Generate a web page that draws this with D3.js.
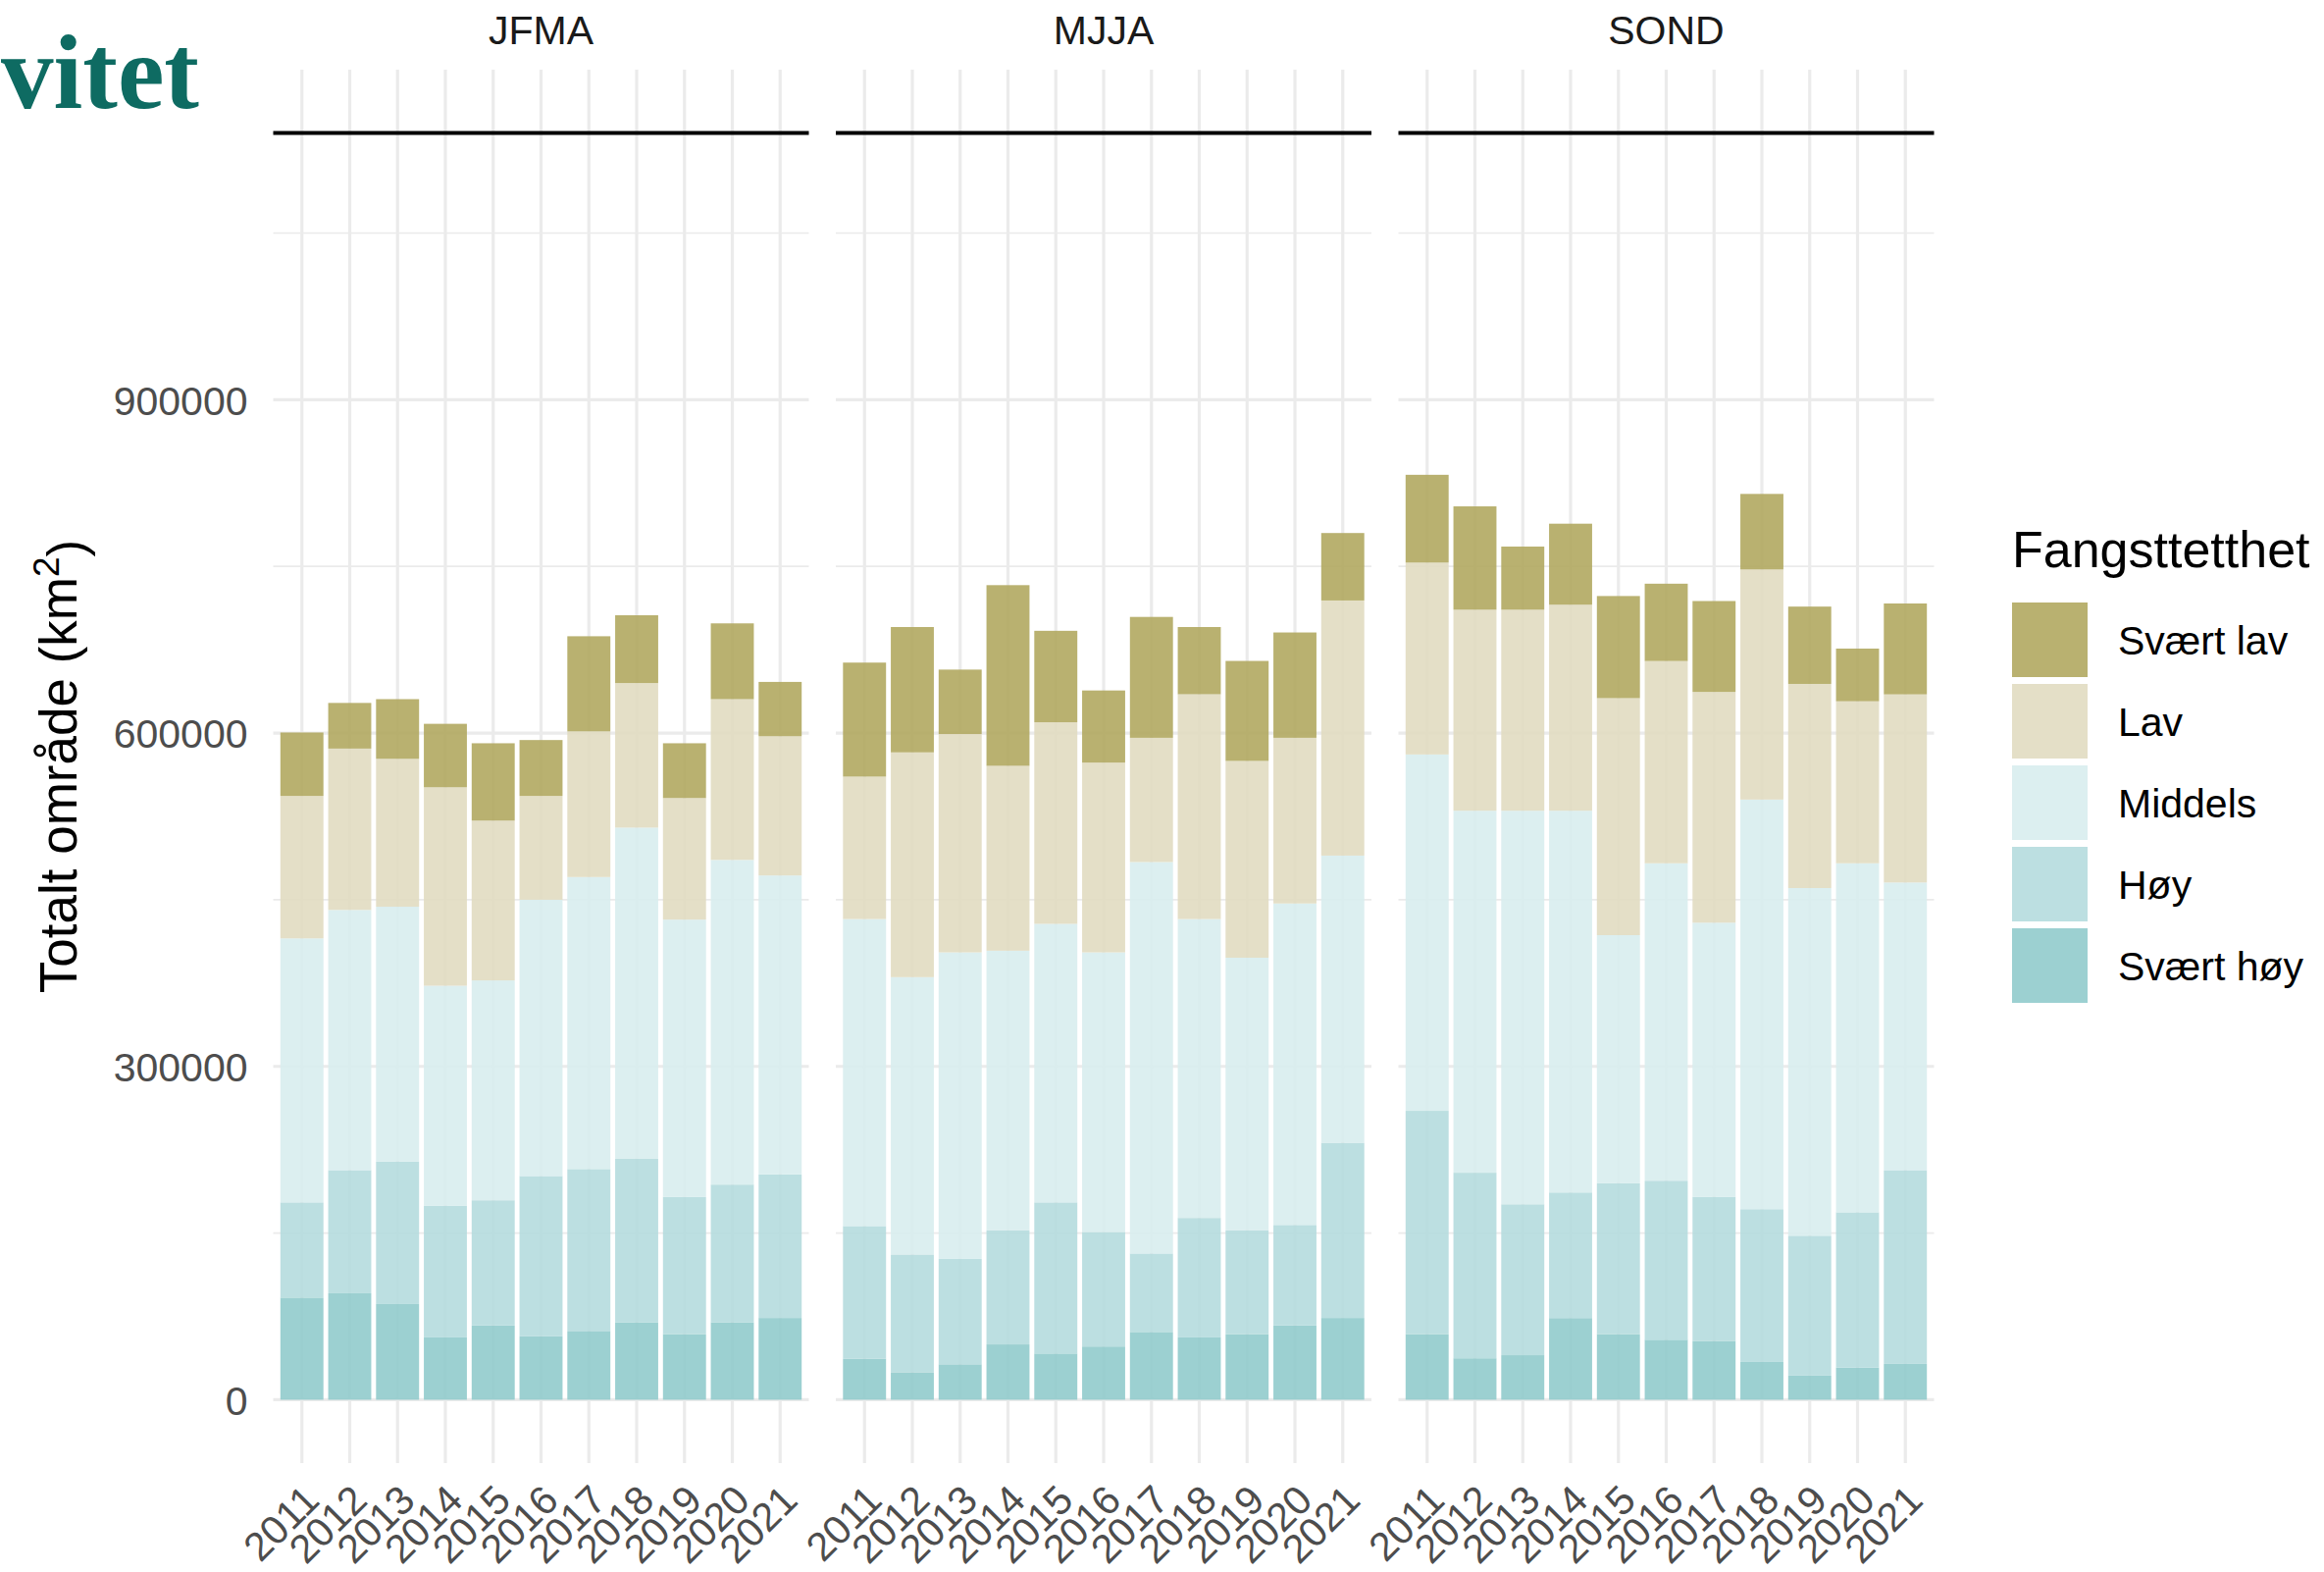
<!DOCTYPE html>
<html>
<head>
<meta charset="utf-8">
<script src="https://cdn.jsdelivr.net/npm/d3@7"></script>
<style>
  body { margin: 0; background: #fff; }
  svg text { font-family: "Liberation Sans", Arial, sans-serif; }
</style>
</head>
<body>
<svg id="chart"></svg>
<script>
// ---- data (km2 per catch-density class) ----
const years = ["2011","2012","2013","2014","2015","2016","2017","2018","2019","2020","2021"];
const seasons = ["JFMA", "MJJA", "SOND"];
const levels = ["Svært lav", "Lav", "Middels", "Høy", "Svært høy"];

const jfmaSvaertLav = [57100, 41100, 53700, 57100, 69600, 50300, 85600, 61000, 49300, 68200, 48900];
const jfmaLav       = [128200, 145200, 133100, 178600, 143800, 93400, 131100, 130100, 109400, 144700, 125300];
const jfmaMiddels   = [237600, 234200, 229300, 197900, 197900, 248700, 262800, 298100, 249700, 292200, 269000];
const jfmaHoy       = [85700, 110800, 128300, 118600, 112700, 144200, 145700, 147100, 123400, 123900, 129200];
const jfmaSvaertHoy = [91900, 95800, 86100, 56100, 66800, 57100, 61900, 69700, 59000, 69700, 73600];

const mjjaSvaertLav = [102600, 112800, 58000, 162600, 82300, 64900, 108800, 60500, 90000, 94800, 60700];
const mjjaLav       = [128200, 202300, 196500, 166400, 181400, 170800, 111800, 202300, 177100, 149100, 229600];
const mjjaMiddels   = [276300, 249600, 275800, 251700, 250700, 251600, 352300, 269000, 245400, 289300, 258400];
const mjjaHoy       = [119500, 106000, 94900, 102600, 136000, 103100, 70600, 107500, 93400, 90500, 157700];
const mjjaSvaertHoy = [36800, 24700, 31900, 49800, 41600, 47900, 61000, 56100, 59000, 66800, 73600];

const sondSvaertLav = [79000, 93000, 56800, 72900, 91900, 69600, 81800, 68000, 69600, 47400, 81800];
const sondLav       = [172700, 180900, 180900, 185400, 213300, 182000, 207700, 207100, 183700, 145800, 169300];
const sondMiddels   = [320700, 325800, 354200, 343600, 223200, 285700, 246700, 368600, 312900, 314100, 258900];
const sondHoy       = [201000, 167000, 135800, 113000, 135900, 143100, 129700, 137500, 125900, 139700, 174300];
const sondSvaertHoy = [59000, 37300, 40100, 73500, 59000, 54000, 52900, 34000, 21700, 29000, 32300];

const yTicks = [0, 300000, 600000, 900000];
const yMinor = [150000, 450000, 750000, 1050000];
const refLine = 1140000;

const seasonData = {
  JFMA: [jfmaSvaertLav, jfmaLav, jfmaMiddels, jfmaHoy, jfmaSvaertHoy],
  MJJA: [mjjaSvaertLav, mjjaLav, mjjaMiddels, mjjaHoy, mjjaSvaertHoy],
  SOND: [sondSvaertLav, sondLav, sondMiddels, sondHoy, sondSvaertHoy]
};

// ---- layout ----
const W = 2369, H = 1602;
const panelLeft = 278.5, panelW = 546, panelGap = 27.5;
const panelTop = 71, panelBottom = 1491;

const colors = ["#b1a961", "#e1dbc1", "#d8edee", "#b5dbde", "#91cbcc"];
const color = d3.scaleOrdinal().domain(levels).range(colors);

const svg = d3.select("#chart").attr("width", W).attr("height", H);

// logo fragment top-left
svg.append("text")
  .attr("x", 203).attr("y", 110)
  .attr("text-anchor", "end")
  .style("font-family", "'Liberation Serif', 'DejaVu Serif', serif")
  .style("font-weight", "bold")
  .style("font-size", "107px")
  .attr("fill", "#0e6b62")
  .text("vitet");

const y = d3.scaleLinear().domain([-57000, 1197000]).range([panelBottom, panelTop]);

// y axis labels (left of first panel only)
const yAxis = svg.append("g")
  .attr("transform", `translate(${panelLeft - 26},0)`)
  .call(d3.axisLeft(y).tickValues(yTicks).tickSize(0).tickFormat(d3.format("d")));
yAxis.select(".domain").remove();
yAxis.selectAll("text").style("font-size", "41px").attr("fill", "#4d4d4d").attr("x", 0).attr("dy", "0.36em");

// y title
svg.append("text")
  .attr("transform", `translate(78,781) rotate(-90)`)
  .attr("text-anchor", "middle")
  .style("font-size", "53px")
  .attr("fill", "#000")
  .call(t => {
    t.append("tspan").text("Totalt område (km");
    t.append("tspan").attr("dy", "-0.5em").style("font-size", "37px").text("2");
    t.append("tspan").attr("dy", "0.5em").text(")");
  });

// stack: Svært høy at the bottom
const stackKeys = levels.slice().reverse();
const stack = d3.stack().keys(stackKeys);

seasons.forEach((season, si) => {
  const x0 = panelLeft + si * (panelW + panelGap);
  const x = d3.scaleBand().domain(years).range([0, panelW]).paddingInner(0.1).paddingOuter(0.15);

  const rows = years.map((yr, i) => {
    const row = { year: yr };
    levels.forEach((lv, li) => { row[lv] = seasonData[season][li][i]; });
    return row;
  });
  const series = stack(rows);

  const g = svg.append("g").attr("transform", `translate(${x0},0)`);

  // grid
  g.selectAll(".hminor").data(yMinor).join("line")
    .attr("x1", 0).attr("x2", panelW)
    .attr("y1", d => y(d)).attr("y2", d => y(d))
    .attr("stroke", "#ebebeb").attr("stroke-width", 1.6);
  g.selectAll(".hmajor").data(yTicks).join("line")
    .attr("x1", 0).attr("x2", panelW)
    .attr("y1", d => y(d)).attr("y2", d => y(d))
    .attr("stroke", "#ebebeb").attr("stroke-width", 3.2);
  g.selectAll(".vmajor").data(years).join("line")
    .attr("x1", d => x(d) + x.bandwidth() / 2).attr("x2", d => x(d) + x.bandwidth() / 2)
    .attr("y1", panelTop).attr("y2", panelBottom)
    .attr("stroke", "#ebebeb").attr("stroke-width", 3.2);

  // bars
  g.selectAll(".layer").data(series).join("g")
    .attr("fill", d => color(d.key))
    .attr("fill-opacity", 0.9)
    .selectAll("rect").data(d => d).join("rect")
    .attr("x", d => x(d.data.year))
    .attr("width", x.bandwidth())
    .attr("y", d => y(d[1]))
    .attr("height", d => y(d[0]) - y(d[1]));

  // reference line
  g.append("line")
    .attr("x1", 0).attr("x2", panelW)
    .attr("y1", y(refLine)).attr("y2", y(refLine))
    .attr("stroke", "#000").attr("stroke-width", 4);

  // strip label
  g.append("text")
    .attr("x", panelW / 2).attr("y", 45)
    .attr("text-anchor", "middle")
    .style("font-size", "41px")
    .attr("fill", "#1a1a1a")
    .text(season);

  // x axis
  const xAxis = g.append("g")
    .attr("transform", `translate(0,${panelBottom})`)
    .call(d3.axisBottom(x).tickSize(0));
  xAxis.select(".domain").remove();
  xAxis.selectAll("text")
    .style("font-size", "41px")
    .attr("fill", "#4d4d4d")
    .attr("text-anchor", "end")
    .attr("y", 0).attr("dy", 0)
    .attr("transform", "translate(20,40) rotate(-45)");
});

// legend
const legend = svg.append("g").attr("transform", "translate(2051,0)");
legend.append("text")
  .attr("x", 0).attr("y", 578)
  .style("font-size", "52px")
  .attr("fill", "#000")
  .text("Fangsttetthet");

const items = legend.selectAll(".item").data(levels).join("g")
  .attr("transform", (d, i) => `translate(0,${614 + i * 83})`);
items.append("rect")
  .attr("width", 77).attr("height", 76)
  .attr("fill", d => color(d))
  .attr("fill-opacity", 0.9);
items.append("text")
  .attr("x", 108).attr("y", 38).attr("dy", "0.36em")
  .style("font-size", "41px")
  .attr("fill", "#000")
  .text(d => d);
</script>
</body>
</html>
